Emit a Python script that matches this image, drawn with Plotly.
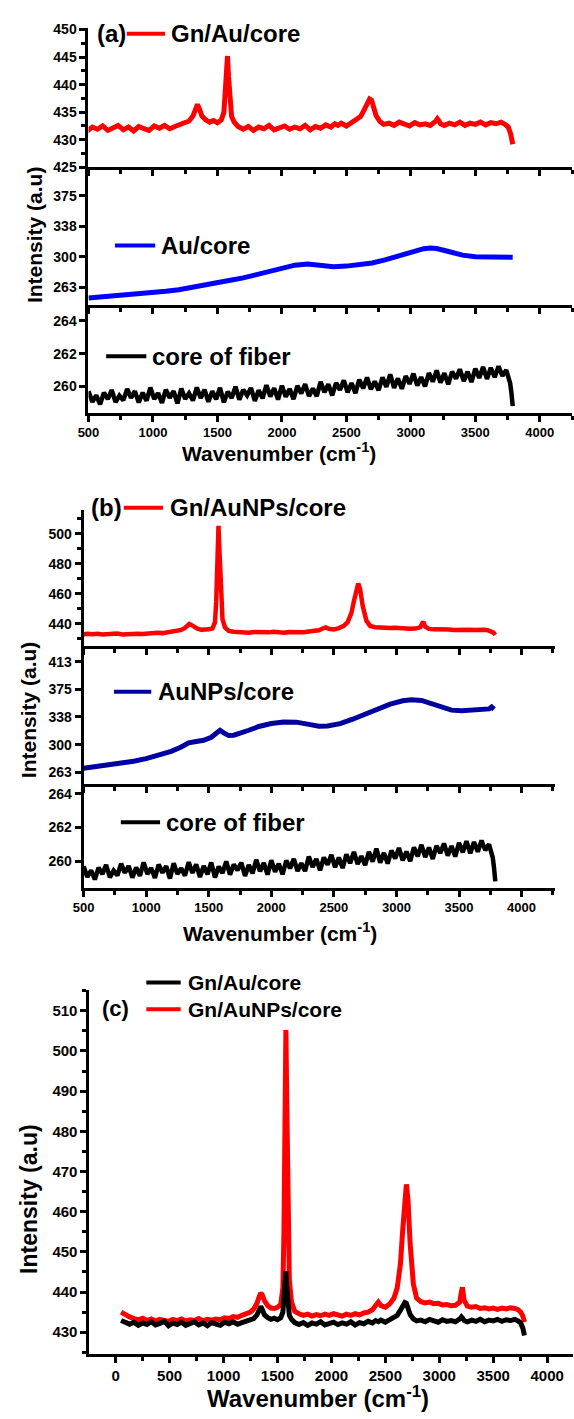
import plotly.graph_objects as go

W, H = 574, 1419
FONT = "Liberation Sans"

# ---------------- data ----------------
wn_gn = [50, 90, 130, 170, 210, 250, 290, 330, 370, 410, 450, 490, 530, 570, 610, 650,
         690, 730, 770, 810, 850, 890, 930, 970, 1010, 1050, 1090, 1130, 1170, 1210, 1250,
         1280, 1310, 1330, 1345, 1360, 1380, 1410, 1440, 1470, 1500, 1530,
         1550, 1560, 1570, 1578, 1586, 1595, 1610, 1630, 1660,
         1700, 1740, 1780, 1820, 1860, 1900, 1940, 1980, 2020, 2060, 2100, 2140, 2180,
         2220, 2260, 2300, 2340, 2380,
         2410, 2435, 2460, 2500, 2540, 2580,
         2610, 2640, 2660, 2680, 2695, 2710, 2730, 2760, 2790,
         2830, 2870, 2910, 2950, 2990, 3030, 3070, 3110, 3150, 3190, 3205, 3215, 3230,
         3260, 3300, 3340, 3380, 3420, 3460, 3500, 3540, 3580, 3620, 3660, 3700, 3730,
         3755, 3775, 3790]

gn_au = [432.9, 432.4, 432.0, 432.5, 431.7, 432.3, 431.9, 432.6, 431.8, 432.2, 432.7, 431.6,
         432.3, 431.9, 432.5, 431.7, 432.1, 432.6, 431.8, 432.3, 431.6, 432.4, 432.0, 431.7,
         432.5, 432.1, 432.6, 432.0, 432.4, 432.8, 433.1,
         433.4, 434.3, 435.5, 436.4, 435.6, 434.3, 433.6, 433.2, 433.5, 433.1, 433.6,
         435.0, 438.5, 442.5, 445.2, 441.5, 437.0, 434.2, 433.2, 432.4,
         431.9, 432.4, 431.7, 432.3, 432.0, 432.6, 431.8, 432.2, 432.5, 431.9, 432.3, 432.0,
         432.6, 431.8, 432.4, 432.1, 432.7, 432.3,
         432.9, 432.6, 433.0, 432.5, 433.1, 433.5,
         434.2, 435.5, 436.6, 437.4, 437.2, 436.0, 434.4, 433.3, 432.8,
         433.0, 432.6, 433.2, 432.8, 432.5, 433.1, 432.7, 432.9, 432.6, 433.3, 433.8, 433.5,
         432.9, 432.6, 433.0, 432.7, 433.2, 432.6, 433.0, 432.8, 433.2, 432.7, 433.1, 432.9,
         433.2, 432.8, 432.3, 431.0, 429.2]

gn_aunps = [435.0, 434.3, 433.8, 433.4, 433.1, 433.5, 432.9, 433.3, 432.8, 433.2, 433.0, 432.7,
            433.2, 432.9, 433.3, 432.8, 433.1, 432.9, 433.4, 432.8, 433.2, 433.0, 433.3, 433.1,
            433.6, 433.4, 433.9, 433.7, 434.2, 434.5, 435.0,
            435.8, 437.2, 438.8, 439.8, 439.2, 437.8, 436.6, 436.0, 435.9, 436.2, 436.9,
            441.0, 455.0, 485.0, 505.2, 488.0, 462.0, 443.0, 437.5, 435.2,
            434.6, 434.2, 434.5, 434.0, 434.4, 434.1, 434.5, 434.2, 434.6, 434.3, 434.0, 434.5,
            434.2, 434.6, 434.3, 434.8, 435.0, 435.6,
            436.8, 437.5, 436.6, 436.2, 437.0, 438.5,
            441.0, 447.0, 455.0, 463.5, 466.8, 463.0, 452.0, 442.0, 438.5,
            437.6, 437.3, 437.5, 437.1, 437.2, 436.8, 436.9, 436.6, 436.7, 437.5, 440.0, 441.2,
            438.0, 436.5, 436.2, 436.4, 435.9, 436.1, 435.8, 436.0, 435.7, 436.0, 435.8, 436.1,
            435.9, 435.6, 435.0, 434.0, 432.5]

wn_au = [500, 600, 700, 800, 900, 1000, 1100, 1200, 1300, 1400, 1500, 1600, 1700, 1800,
         1900, 2000, 2100, 2200, 2300, 2400, 2500, 2600, 2700, 2800, 2900, 3000, 3100, 3150,
         3200, 3300, 3400, 3500, 3600, 3700, 3790]
au_core = [249.0, 250.2, 251.5, 252.8, 254.3, 255.8, 257.3, 259.3, 261.8, 264.4, 267.4, 270.8,
           273.8, 277.8, 282.3, 286.8, 289.5, 290.8, 289.8, 287.6, 288.3, 289.6, 292.2, 296.0,
           300.8, 305.7, 309.8, 310.6, 310.0, 306.0, 301.8, 299.8, 299.5, 300.0, 299.2]

wn_aunps = [500, 600, 700, 800, 900, 1000, 1100, 1200, 1280, 1340, 1400, 1460, 1520, 1560,
            1590, 1620, 1660, 1700, 1760, 1820, 1900, 2000, 2100, 2200, 2300, 2380, 2450, 2550,
            2650, 2750, 2850, 2950, 3050, 3120, 3200, 3280, 3360, 3440, 3520, 3600, 3680, 3740,
            3760, 3780]
aunps_core = [268.0, 270.0, 272.2, 274.6, 277.5, 281.0, 285.6, 291.0, 296.8, 302.5, 304.2, 306.0,
              310.0, 315.5, 319.5, 316.0, 312.3, 312.8, 315.5, 319.5, 324.6, 328.6, 330.8, 330.5,
              327.5, 325.0, 325.2, 328.5, 334.5, 341.5, 348.5, 355.0, 359.5, 361.0, 360.0, 356.0,
              350.5, 346.8, 346.0, 346.6, 347.3, 348.5, 351.0, 347.8]

wn_core = [500, 530, 560, 590, 620, 650, 680, 710, 740, 770,
           800, 830, 860, 890, 920, 950, 980, 1010, 1040, 1070,
           1100, 1130, 1160, 1190, 1220, 1250, 1280, 1310, 1340, 1370,
           1400, 1430, 1460, 1490, 1520, 1550, 1580, 1610, 1640, 1670,
           1700, 1730, 1760, 1790, 1820, 1850, 1880, 1910, 1940, 1970,
           2000, 2030, 2060, 2090, 2120, 2150, 2180, 2210, 2240, 2270,
           2300, 2330, 2360, 2390, 2420, 2450, 2480, 2510, 2540, 2570,
           2600, 2630, 2660, 2690, 2720, 2750, 2780, 2810, 2840, 2870,
           2900, 2930, 2960, 2990, 3020, 3050, 3080, 3110, 3140, 3170,
           3200, 3230, 3260, 3290, 3320, 3350, 3380, 3410, 3440, 3470,
           3500, 3530, 3560, 3590, 3620, 3650, 3680, 3710, 3740, 3770,
           3780, 3790]
core_fiber = [259.70, 259.06, 259.46, 258.91, 259.62, 259.23, 259.78, 259.04, 259.44, 259.15,
              259.85, 259.31, 259.71, 259.02, 259.62, 259.13, 259.93, 259.24, 259.59, 259.00,
              259.80, 259.31, 259.71, 258.97, 259.87, 259.23, 259.58, 259.14, 259.94, 259.30,
              259.80, 259.06, 259.71, 259.22, 259.92, 259.03, 259.68, 259.29, 259.99, 259.20,
              259.80, 259.46, 259.91, 259.12, 259.77, 259.28, 260.08, 259.39, 259.89, 259.20,
              260.05, 259.37, 259.85, 259.22, 260.04, 259.57, 260.14, 259.41, 259.88, 259.41,
              260.28, 259.65, 260.13, 259.45, 260.22, 259.79, 260.37, 259.64, 260.21, 259.59,
              260.41, 259.88, 260.55, 259.83, 260.30, 259.77, 260.55, 259.97, 260.74, 259.91,
              260.49, 259.86, 260.63, 260.16, 260.78, 260.05, 260.57, 260.00, 260.82, 260.29,
              260.97, 260.24, 260.81, 260.13, 260.91, 260.48, 261.05, 260.33, 260.90, 260.27,
              261.09, 260.52, 261.19, 260.46, 261.14, 260.56, 261.23, 260.65, 261.00, 260.20,
              259.60, 258.80]

mid_ticks = [262.5, 300, 337.5, 375, 412.5]
mid_ticktext = ["263", "300", "338", "375", "413"]

RED, BLUE, NAVY, BLACK = "#FF0000", "#0000FF", "#0000A0", "#000000"


def px(x):
    return x / W


def py(y):
    return 1 - y / H


fig = go.Figure()


def add(x, y, color, xa, ya, width=4):
    fig.add_trace(go.Scatter(x=x, y=y, mode="lines", xaxis=xa, yaxis=ya,
                             line=dict(color=color, width=width), showlegend=False,
                             hoverinfo="skip"))


# panel (a)
add(wn_gn, gn_au, RED, "x", "y", 5)
add(wn_au, au_core, BLUE, "x2", "y2", 5)
add(wn_core, core_fiber, BLACK, "x3", "y3", 4.5)
# panel (b)
add(wn_gn, gn_aunps, RED, "x4", "y4", 4.5)
add(wn_aunps, aunps_core, NAVY, "x5", "y5", 5)
add(wn_core, core_fiber, BLACK, "x6", "y6", 4.5)
# panel (c)
add(wn_gn, gn_aunps, RED, "x7", "y7", 5)
add(wn_gn, gn_au, BLACK, "x7", "y7", 5)


def tf(size):
    return dict(family=FONT, size=size, color="black", weight="bold")


def xax(x0, x1, rng, anchor, labels, fsize=13, dtick=500, minor=250):
    return dict(domain=[px(x0), px(x1)], range=rng, anchor=anchor, side="bottom",
                showline=True, linecolor="black", linewidth=3, mirror=False,
                ticks="outside", ticklen=6, tickwidth=3, tickcolor="black",
                tick0=0, dtick=dtick, showticklabels=labels, tickfont=tf(fsize),
                minor=dict(dtick=minor, tick0=0, ticks="outside", ticklen=4, tickwidth=2.5,
                           tickcolor="black"),
                showgrid=False, zeroline=False, fixedrange=True)


def yax(y0, y1, rng, anchor, fsize=14, dtick=None, minor=None, tickvals=None, ticktext=None):
    d = dict(domain=[py(y1), py(y0)], range=rng, anchor=anchor,
             showline=True, linecolor="black", linewidth=3, mirror=False,
             ticks="outside", ticklen=6, tickwidth=3, tickcolor="black",
             tickfont=tf(fsize), showgrid=False, zeroline=False, fixedrange=True)
    if tickvals is not None:
        d.update(tickmode="array", tickvals=tickvals, ticktext=ticktext)
    else:
        d.update(tick0=0, dtick=dtick)
        if minor:
            d["minor"] = dict(dtick=minor, tick0=0, ticks="outside", ticklen=4,
                              tickwidth=2.5, tickcolor="black")
    return d


A_X = (79, 572)
B_X = (74, 555)
C_X = (80, 573)

layout = dict(
    width=W, height=H, autosize=False,
    margin=dict(l=0, r=0, t=0, b=0, pad=0),
    paper_bgcolor="white", plot_bgcolor="white",
    showlegend=False,
    # panel (a)
    xaxis=xax(*A_X, [500, 4250], "y", False),
    yaxis=yax(21.7, 162, [425, 450.2], "x", dtick=5, minor=2.5),
    xaxis2=xax(*A_X, [500, 4250], "y2", False),
    yaxis2=yax(162, 300.7, [241, 410], "x2", tickvals=mid_ticks, ticktext=mid_ticktext),
    xaxis3=xax(*A_X, [500, 4250], "y3", True),
    yaxis3=yax(300.7, 410, [258.4, 265.0], "x3", dtick=2),
    # panel (b)
    xaxis4=xax(*B_X, [500, 4270], "y4", False),
    yaxis4=yax(508, 645.7, [425.2, 516], "x4", dtick=20, minor=10),
    xaxis5=xax(*B_X, [500, 4270], "y5", False),
    yaxis5=yax(645.7, 785, [247, 434], "x5", tickvals=mid_ticks, ticktext=mid_ticktext),
    xaxis6=xax(*B_X, [500, 4270], "y6", True),
    yaxis6=yax(785, 890, [258.43, 264.6], "x6", dtick=2),
    # panel (c)
    xaxis7=xax(*C_X, [-243, 4240], "y7", True, fsize=15),
    yaxis7=yax(993, 1361.7, [424.5, 515.3], "x7", fsize=15, dtick=10, minor=5),
)
fig.update_layout(**layout)

shapes = []
annotations = []


def legend_item(x0, x1, y, color, text, tx, size=24, width=4):
    shapes.append(dict(type="line", xref="paper", yref="paper", x0=px(x0), x1=px(x1),
                       y0=py(y), y1=py(y), line=dict(color=color, width=width)))
    annotations.append(dict(xref="paper", yref="paper", x=px(tx), y=py(y), text=text,
                            showarrow=False, xanchor="left", yanchor="middle",
                            font=tf(size)))


def label(x, y, text, size=24, anchor="left", angle=0):
    annotations.append(dict(xref="paper", yref="paper", x=px(x), y=py(y), text=text,
                            showarrow=False, xanchor=anchor, yanchor="middle",
                            textangle=angle, font=tf(size)))


# panel (a) labels
label(86, 27, "(a)")
legend_item(118, 157, 27, RED, "Gn/Au/core", 161)
legend_item(106, 147, 241, BLUE, "Au/core", 151)
legend_item(97, 138, 353, BLACK, "core of fiber", 142)
label(24, 230, "Intensity (a.u)", size=21, anchor="center", angle=-90)
label(273, 450, "Wavenumber (cm<sup>-1</sup>)", size=21, anchor="center")

# panel (b) labels
label(80, 506, "(b)")
legend_item(115, 155, 506, RED, "Gn/AuNPs/core", 160)
legend_item(105, 143, 692, NAVY, "AuNPs/core", 148)
legend_item(112, 152, 824, BLACK, "core of fiber", 156)
label(18, 710, "Intensity (a.u)", size=21, anchor="center", angle=-90)
label(274, 935, "Wavenumber (cm<sup>-1</sup>)", size=21, anchor="center")

# panel (c) labels
label(91, 1012, "(c)", size=22)
legend_item(138, 173, 986, BLACK, "Gn/Au/core", 178, size=21)
legend_item(138, 173, 1013, RED, "Gn/AuNPs/core", 178, size=21)
label(19, 1205, "Intensity (a.u)", size=23, anchor="center", angle=-90)
label(313, 1405, "Wavenumber (cm<sup>-1</sup>)", size=24, anchor="center")

fig.update_layout(shapes=shapes, annotations=annotations)

fig.write_html("out.html")
